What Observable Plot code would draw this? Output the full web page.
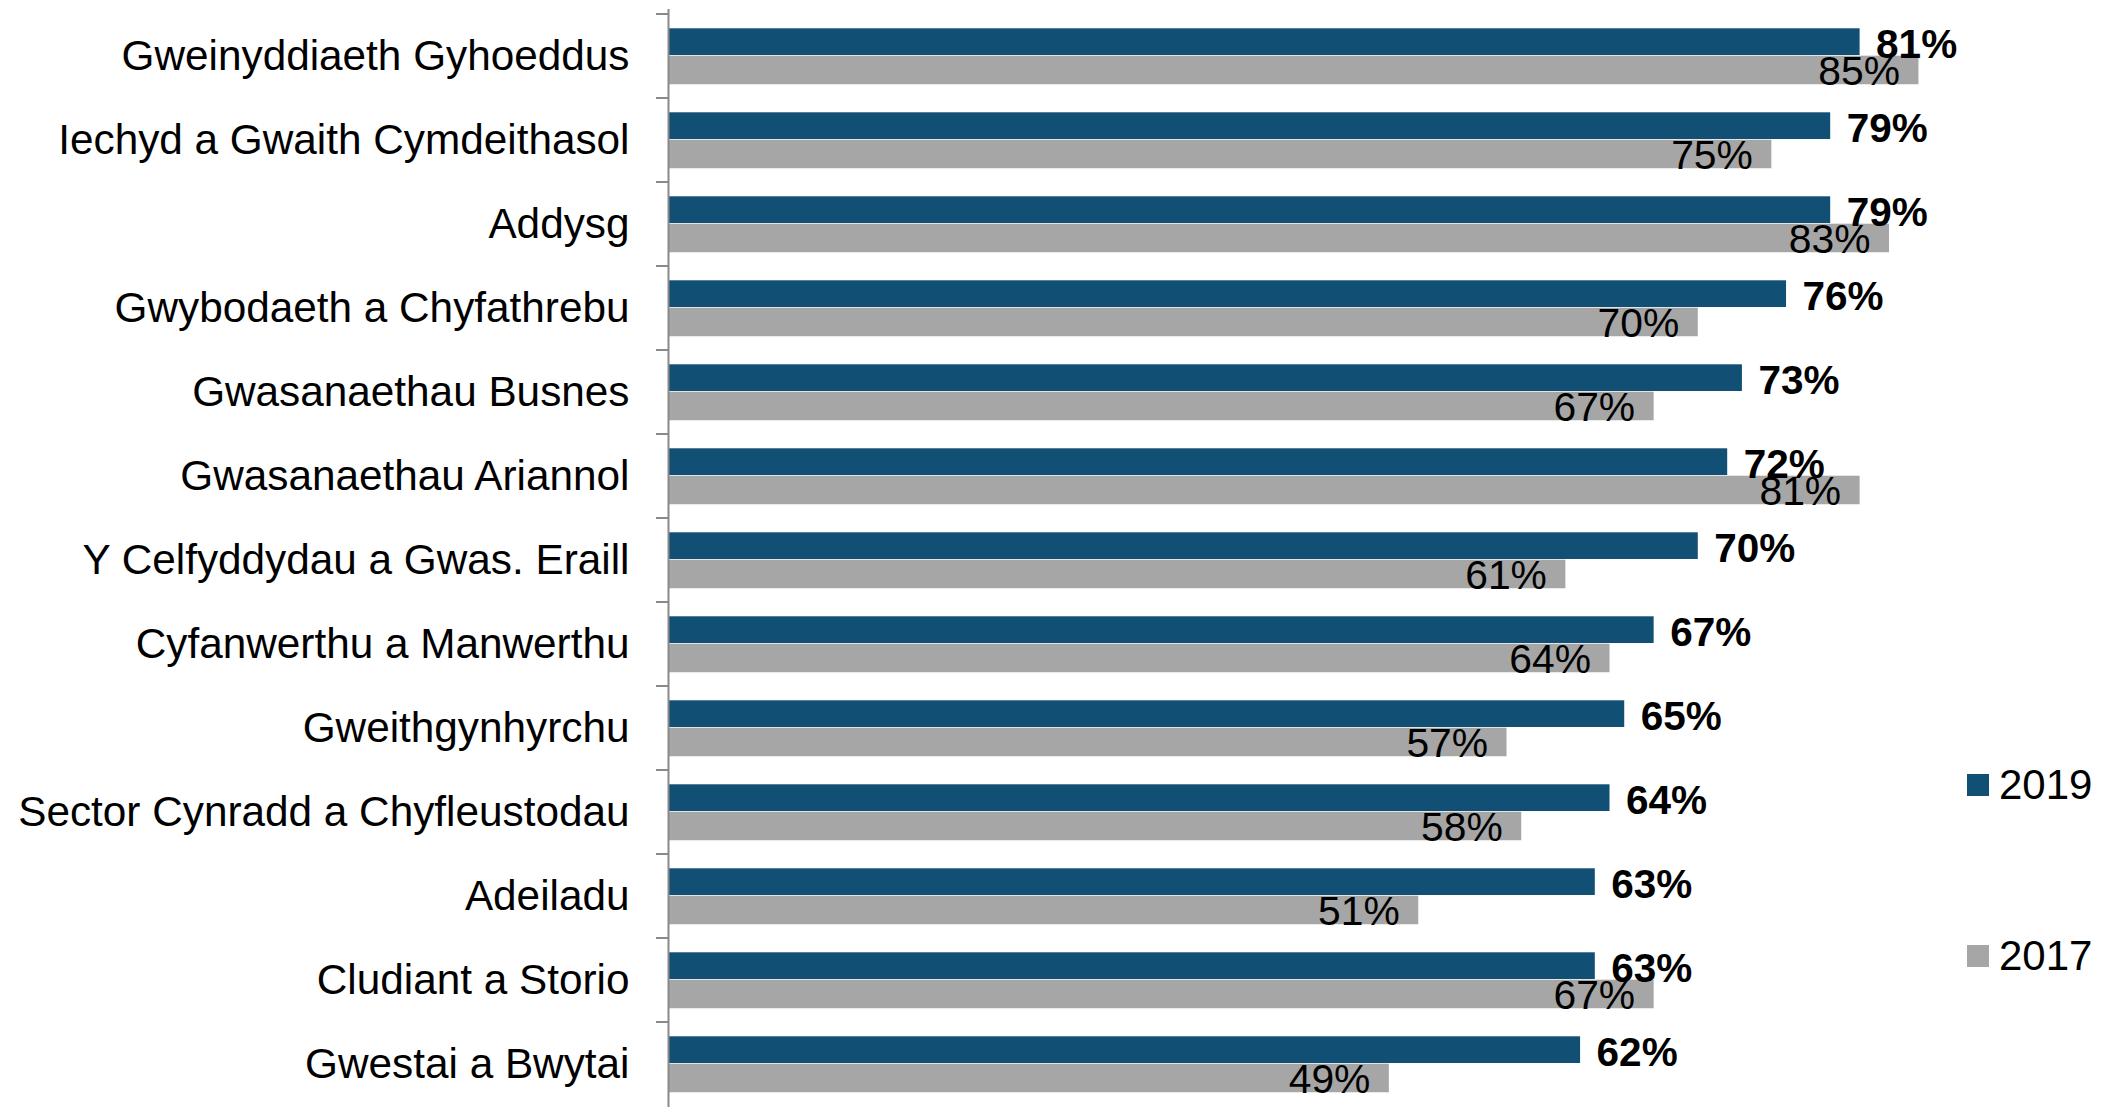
<!DOCTYPE html>
<html><head><meta charset="utf-8">
<script src="https://cdn.jsdelivr.net/npm/d3@7"></script>
<script src="https://cdn.jsdelivr.net/npm/@observablehq/plot@0.6"></script>
<style>
body{margin:0;background:#fff;font-family:"Liberation Sans",Arial,sans-serif;}
#wrap{position:relative;width:2118px;height:1107px;overflow:hidden;}
.legend-item{position:absolute;left:1967px;display:flex;align-items:center;font-size:42px;color:#000;line-height:1;}
.legend-item .sw{width:22px;height:22px;margin-right:10px;}
</style></head><body>
<div id="wrap"></div>
<script>
const categories = [
  "Gweinyddiaeth Gyhoeddus",
  "Iechyd a Gwaith Cymdeithasol",
  "Addysg",
  "Gwybodaeth a Chyfathrebu",
  "Gwasanaethau Busnes",
  "Gwasanaethau Ariannol",
  "Y Celfyddydau a Gwas. Eraill",
  "Cyfanwerthu a Manwerthu",
  "Gweithgynhyrchu",
  "Sector Cynradd a Chyfleustodau",
  "Adeiladu",
  "Cludiant a Storio",
  "Gwestai a Bwytai"
];
const values2019 = [81, 79, 79, 76, 73, 72, 70, 67, 65, 64, 63, 63, 62];
const values2017 = [85, 75, 83, 70, 67, 81, 61, 64, 57, 58, 51, 67, 49];
const seriesNames = ["2019", "2017"];
const seriesColors = ["#124f74", "#a6a6a6"];

const data = categories.map((c, i) => ({category: c, v2019: values2019[i], v2017: values2017[i]}));
const fmt = v => v + "%";

const boundaryTicks = (index, scales) => {
  const g = d3.create("svg:g");
  const x0 = scales.x(0);
  for (const c of categories) {
    const y = scales.y(c);
    g.append("line").attr("x1", x0 - 12).attr("x2", x0).attr("y1", y).attr("y2", y)
      .attr("stroke", "#898989").attr("stroke-width", 2);
  }
  return g.node();
};

const chart = Plot.plot({
  width: 2118,
  height: 1107,
  marginLeft: 668,
  marginRight: 126,
  marginTop: 9,
  marginBottom: 0,
  style: {fontFamily: "'Liberation Sans', Arial, sans-serif", fontSize: "42px", color: "#000", background: "#fff"},
  x: {domain: [0, 90], axis: null},
  y: {domain: categories, range: [9, 1110.75], padding: 0, axis: null},
  marks: [
    Plot.barX(data, {x: "v2019", y: "category", fill: seriesColors[0], insetTop: 14.3, insetBottom: 43}),
    Plot.barX(data, {x: "v2017", y: "category", fill: seriesColors[1], insetTop: 41.7, insetBottom: 13.75}),
    Plot.ruleX([0], {stroke: "#898989", strokeWidth: 2}),
    boundaryTicks,
    Plot.axisY({tickSize: 0, tickPadding: 39, fontSize: 42.3, label: null, fill: "#000"}),
    Plot.text(data, {x: "v2019", y: "category", text: d => fmt(d.v2019), textAnchor: "start", dx: 16, dy: -11, fontWeight: "bold", fontSize: 40.5, fill: "#000"}),
    Plot.text(data, {x: "v2017", y: "category", text: d => fmt(d.v2017), textAnchor: "end", dx: -19, dy: 15, fontSize: 40.8, fill: "#000"})
  ]
});
const wrap = document.getElementById("wrap");
wrap.appendChild(chart);

const legendTops = [785, 955.5];
seriesNames.forEach((name, i) => {
  const item = document.createElement("div");
  item.className = "legend-item";
  item.style.top = (legendTops[i] - 21) + "px";
  item.innerHTML = `<span class="sw" style="background:${seriesColors[i]}"></span><span>${name}</span>`;
  wrap.appendChild(item);
});
</script>
</body></html>
